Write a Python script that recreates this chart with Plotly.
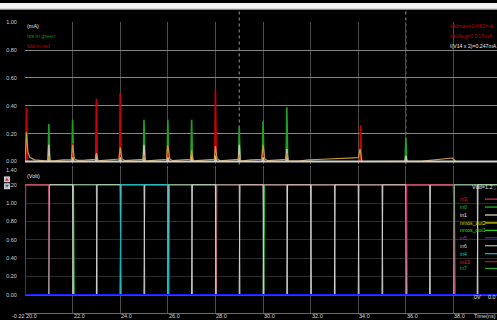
import plotly.graph_objects as go

# ---------------- data ----------------
# time axis (ns)
T_MIN, T_MAX = 20.0, 39.83
time_ticks = [20.0, 22.0, 24.0, 26.0, 28.0, 30.0, 32.0, 34.0, 36.0, 38.0]

# supply current spikes (mA) at each switching instant
spike_t = [20.06, 21.0, 22.0, 23.0, 24.0, 25.0, 26.0, 27.0, 28.0, 29.0, 30.0, 31.0, 34.1, 36.0]
idd_peak = [0.39, 0.05, 0.13, 0.45, 0.49, 0.05, 0.12, 0.04, 0.52, 0.03, 0.10, 0.03, 0.26, 0.00]
iss_peak = [0.20, 0.27, 0.30, 0.10, 0.14, 0.30, 0.30, 0.30, 0.06, 0.25, 0.29, 0.39, 0.08, 0.17]
iv_peak = [0.00, 0.12, 0.03, 0.05, 0.03, 0.12, 0.03, 0.04, 0.04, 0.12, 0.03, 0.09, 0.00, 0.04]

# slow current component (mA)
tail_t = [20.0, 20.06, 20.12, 20.2, 20.4, 20.7, 20.95, 21.0, 21.06, 21.3, 21.6, 21.95,
          22.0, 22.07, 22.2, 22.5, 22.95, 23.0, 23.07, 23.3, 23.6, 23.95,
          24.0, 24.07, 24.2, 24.5, 24.95, 25.0, 25.07, 25.4, 25.95,
          26.0, 26.08, 26.2, 26.6, 26.95, 27.0, 27.07, 27.5, 27.95,
          28.0, 28.07, 28.2, 28.6, 28.95, 29.0, 29.07, 29.5, 29.95,
          30.0, 30.07, 30.2, 30.6, 30.95, 31.0, 31.07, 31.5, 31.9, 32.5, 33.2, 34.0,
          34.08, 34.15, 36.7, 37.3, 37.95, 38.1, 39.83]
tail_i = [0.0, 0.21, 0.07, 0.03, 0.012, 0.004, 0.002, 0.04, 0.003, 0.006, 0.012, 0.013,
          0.12, 0.02, 0.008, 0.01, 0.015, 0.06, 0.004, 0.008, 0.014, 0.018,
          0.10, 0.02, 0.006, 0.01, 0.015, 0.05, 0.003, 0.008, 0.016,
          0.12, 0.02, 0.006, 0.012, 0.016, 0.08, 0.004, 0.01, 0.016,
          0.11, 0.02, 0.005, 0.012, 0.015, 0.05, 0.003, 0.012, 0.016,
          0.12, 0.02, 0.006, 0.012, 0.015, 0.06, 0.002, 0.002, 0.012, 0.016, 0.02, 0.028,
          0.09, 0.0, 0.003, 0.014, 0.025, 0.0, 0.0]

# digital waveforms (V): start level and switching times
VDD = 1.2
clk_edges = [21, 22, 23, 24, 25, 26, 27, 28, 29, 30, 31, 32, 33, 34, 35, 36, 37, 38, 39]
in1_start, in6_start = 0.0, 1.2
in0_start, in0_edges = 1.2, [22.04, 30.04]
in7_start, in7_edges = 0.0, [26.04, 38.04]
in13_start, in13_edges = 0.0, [28.04, 36.04]
in3_start, in3_edges = 0.0, [20.0, 21.0, 36.0, 38.0]
in4_start, in4_edges = 0.0, [24.0, 26.0]
in5_level = [0.0, 0.0]
nmos_out1_level = [1.2, 1.2]
nmos_out2_level = [0.0, 0.0]

legend_names = ["in3", "in0", "in1", "nmos_out2", "nmos_out1", "in5", "in6", "in4", "in13", "in7"]

# ---------------- styling ----------------
W, H = 497, 320
ML = 25
PW = W - ML
FONT = "Liberation Sans, Arial, sans-serif"
FS = 5.5

COL = {
    "in3": "#c83060", "in0": "#20b020", "in1": "#d0d0d0", "nmos_out2": "#c8c800",
    "nmos_out1": "#20d020", "in5": "#403088", "in6": "#a8a8a8", "in4": "#00b8c0",
    "in13": "#c01010", "in7": "#30a030",
}
LEG_TEXT = {
    "in3": "#d02020", "in0": "#20c020", "in1": "#e8e8e8", "nmos_out2": "#d8d800",
    "nmos_out1": "#20e020", "in5": "#8040c0", "in6": "#d0d0d0", "in4": "#00d0d0",
    "in13": "#e02020", "in7": "#20b020",
}
EDGE = 0.03  # transition time of a logic edge (ns)


def px_x(px):
    return (px - ML) / PW


def px_y(py):
    return 1 - py / H


def spikes(times, peaks):
    xs, ys = [], []
    for t, p in zip(times, peaks):
        if p <= 0:
            continue
        xs += [t - 0.03, t, t + 0.04, None]
        ys += [0, p, 0, None]
    return xs, ys


def square_wave(start, edges):
    xs, ys, lvl = [T_MIN], [start], start
    for e in edges:
        xs.append(e)
        ys.append(lvl)
        lvl = VDD - lvl
        xs.append(e + EDGE)
        ys.append(lvl)
    xs.append(T_MAX)
    ys.append(lvl)
    return xs, ys


fig = go.Figure()

# ---------------- top panel: currents ----------------
for name, peaks, color in [("Iss", iss_peak, "#1fa01f"), ("Idd", idd_peak, "#cc0000"),
                           ("I(V14 x 2)", iv_peak, "#c8c0b8")]:
    sx, sy = spikes(spike_t, peaks)
    fig.add_trace(go.Scatter(x=sx, y=sy, mode="lines", name=name, xaxis="x", yaxis="y",
                             line=dict(color=color, width=1.6), showlegend=False,
                             connectgaps=False, hoverinfo="skip"))
fig.add_trace(go.Scatter(x=tail_t, y=tail_i, mode="lines", name="tail", xaxis="x", yaxis="y",
                         line=dict(color="#c89a3c", width=1.2), showlegend=False, hoverinfo="skip"))

# ---------------- bottom panel: logic waveforms ----------------
def add_wave(name, xs, ys):
    fig.add_trace(go.Scatter(x=xs, y=ys, mode="lines", name=name, xaxis="x2", yaxis="y2",
                             line=dict(color=COL[name], width=1.1), showlegend=False,
                             hoverinfo="skip"))

add_wave("in5", [T_MIN, T_MAX], in5_level)
add_wave("nmos_out2", [T_MIN, T_MAX], nmos_out2_level)
add_wave("nmos_out1", [T_MIN, T_MAX], nmos_out1_level)
add_wave("in0", *square_wave(in0_start, in0_edges))
add_wave("in7", *square_wave(in7_start, in7_edges))
add_wave("in13", *square_wave(in13_start, in13_edges))
add_wave("in6", *square_wave(in6_start, clk_edges))
add_wave("in1", *square_wave(in1_start, clk_edges))
add_wave("in3", *square_wave(in3_start, in3_edges))
add_wave("in4", *square_wave(in4_start, in4_edges))

# ---------------- shapes ----------------
shapes = []
# header band
shapes.append(dict(type="rect", xref="paper", yref="paper", x0=px_x(0), x1=px_x(W),
                   y0=px_y(6.5), y1=1.0, fillcolor="#f4f4f4", line=dict(width=0), layer="above"))
shapes.append(dict(type="line", xref="paper", yref="paper", x0=px_x(0), x1=px_x(W),
                   y0=px_y(6.5), y1=px_y(6.5), line=dict(color="#8c8c8c", width=1.2)))
# zero line of current panel
shapes.append(dict(type="line", xref="paper", yref="y", x0=0, x1=1, y0=0, y1=0,
                   line=dict(color="#d0d0d0", width=2), layer="above"))
# time cursors
for tc in [29.0, 36.0]:
    shapes.append(dict(type="line", xref="x", yref="paper", x0=tc, x1=tc,
                       y0=px_y(163), y1=px_y(7), line=dict(color="#9a9a9a", width=1, dash="dot"),
                       layer="below"))
# 0 V reference
shapes.append(dict(type="line", xref="paper", yref="y2", x0=0, x1=1, y0=0, y1=0,
                   line=dict(color="#1a1aff", width=1.6), layer="above"))
# scroll buttons
for (y0, y1, glyph_col, up) in [(175, 181, "#d03050", True), (182, 188, "#4060a0", False)]:
    shapes.append(dict(type="rect", xref="paper", yref="paper", x0=px_x(4), x1=px_x(10),
                       y0=px_y(y1), y1=px_y(y0), fillcolor="#c8c8c8", line=dict(width=0)))
    if up:
        path = f"M {px_x(5)} {px_y(y1-1.5)} L {px_x(9)} {px_y(y1-1.5)} L {px_x(7)} {px_y(y0+1.5)} Z"
    else:
        path = f"M {px_x(5)} {px_y(y0+1.5)} L {px_x(9)} {px_y(y0+1.5)} L {px_x(7)} {px_y(y1-1.5)} Z"
    shapes.append(dict(type="path", xref="paper", yref="paper", path=path,
                       fillcolor=glyph_col, line=dict(width=0)))

# legend line samples
leg_y = [198, 206, 214, 222, 229.5, 237, 245, 253, 261, 268]
for name, ly in zip(legend_names, leg_y):
    shapes.append(dict(type="line", xref="paper", yref="paper", x0=px_x(485), x1=px_x(497),
                       y0=px_y(ly), y1=px_y(ly), line=dict(color=COL[name], width=1.3)))

# ---------------- annotations ----------------
ann = []


def text(x, y, s, color, anchor="left", size=FS, xref="paper"):
    ann.append(dict(x=x, y=y, xref=xref, yref="paper", text=s, showarrow=False,
                    xanchor=anchor, yanchor="middle", borderpad=0,
                    font=dict(family=FONT, size=size, color=color)))


text(px_x(26), px_y(23), "(mA)", "#e0e0e0")
text(px_x(26), px_y(33), "Iss in green", "#109010")
text(px_x(26), px_y(43), "Idd in red", "#c00000")
text(px_x(449), px_y(23), "Iddmax=0.692mA", "#c00000")
text(px_x(449), px_y(33), "IddAvg=0.017mA", "#c00000")
text(px_x(449), px_y(43), "I(V14 x 2)=0.247mA", "#e8e8e8", size=5.2)
text(px_x(26), px_y(175), "(Volt)", "#e0e0e0")
text(px_x(497), px_y(186), "Vdd=1.2 ;", "#e0e0e0", anchor="right")
for name, ly in zip(legend_names, leg_y):
    text(px_x(459), px_y(ly), name, LEG_TEXT[name], size=5.2)
text(px_x(473), px_y(297), "0V", "#e0e0e0")
text(px_x(497), px_y(297), "0.0", "#e0e0e0", anchor="right")
# top label of the voltage scale
text(px_x(18), px_y(168.5), "1.40", "#d0d0d0", anchor="right")
# time tick labels sit to the right of their grid line
for tv in time_ticks:
    text(tv, px_y(316), f"{tv:.1f}", "#d8d8d8", xref="x2")
text(px_x(497), px_y(316), "Time(ns)", "#d8d8d8", anchor="right")
text(px_x(26), px_y(316), "-0.22", "#d8d8d8", anchor="right")

axis_font = dict(family=FONT, size=FS, color="#d0d0d0")
fig.update_layout(
    width=W, height=H,
    margin=dict(l=ML, r=0, t=0, b=0),
    paper_bgcolor="#000000", plot_bgcolor="#000000",
    showlegend=False,
    xaxis=dict(domain=[0, 1], anchor="y", range=[T_MIN, T_MAX], tickvals=time_ticks,
               showticklabels=False, showgrid=True, gridcolor="#4a4a4a", gridwidth=1,
               zeroline=False, showline=False, ticks=""),
    xaxis2=dict(domain=[0, 1], anchor="y2", range=[T_MIN, T_MAX], tickvals=time_ticks,
                showticklabels=False, showgrid=True, gridcolor="#4a4a4a", gridwidth=1,
                zeroline=False, showline=True, linecolor="#6a6a6a", linewidth=1, ticks=""),
    yaxis=dict(domain=[px_y(163), px_y(19.5)], range=[-0.0214, 1.0],
               tickvals=[0, 0.2, 0.4, 0.6, 0.8, 1.0], tickformat=".2f",
               showgrid=True, gridcolor="#858585", gridwidth=1, zeroline=False,
               ticks="outside", ticklen=6, tickcolor="#000000", tickfont=axis_font),
    yaxis2=dict(domain=[px_y(313), px_y(165)], range=[-0.2, 1.4],
                tickvals=[0, 0.2, 0.4, 0.6, 0.8, 1.0, 1.2], tickformat=".2f",
                showgrid=True, gridcolor="#2c2c2c", gridwidth=1, zeroline=False,
                ticks="outside", ticklen=6, tickcolor="#000000", tickfont=axis_font),
    shapes=shapes,
    annotations=ann,
)

fig.write_html("out.html")
